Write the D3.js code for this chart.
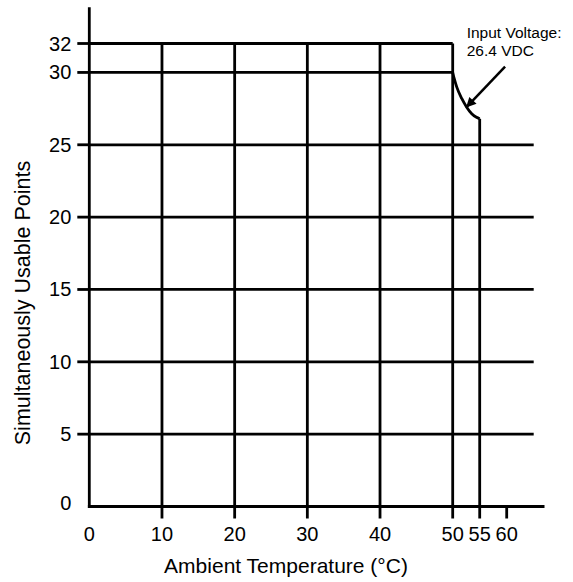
<html>
    <head>
        <title>Simultaneously Usable Points vs Ambient Temperature</title>
        <script src="https://d3js.org/d3.v7.min.js"></script>
        <style>
            body { margin: 0; background-color: white; }
            text { font-family: "Liberation Sans", Arial, sans-serif; fill: black; }
        </style>
    </head>
    <body>
        <div id="chart"></div>
    </body>
    <script>
        // tick values on each axis
        var xTicks = [10, 20, 30, 40, 50, 55, 60];
        var xLabels = [0, 10, 20, 30, 40, 50, 55, 60];
        var yTicks = [5, 10, 15, 20, 25, 30, 32];
        var yLabels = [0, 5, 10, 15, 20, 25, 30, 32];

        // derating curve for 26.4 VDC input
        var curveTemp = [50, 50.3, 50.74, 51.67, 52.59, 53.52, 54.4, 55];
        var curvePoints = [30, 29.55, 29.0, 28.2, 27.6, 27.15, 26.9, 26.8];

        var fullGridY = [5, 10, 15, 20, 25];   // lines out to 65 C
        var topGridY = [30, 32];               // lines up to 50 C
        var gridX = [10, 20, 30, 40, 50];      // vertical up to 32

        var width = 573, height = 582;
        var svg = d3.select("#chart").append("svg")
            .attr("width", width)
            .attr("height", height);

        // axis is stretched between 50 and 60
        var x = d3.scaleLinear()
            .domain([0, 50, 60])
            .range([89.3, 452.7, 506.7]);
        var y = d3.scaleLinear()
            .domain([0, 32])
            .range([506.5, 43.5]);

        var sw = 2.8;
        var g = svg.append("g")
            .attr("stroke", "black")
            .attr("stroke-width", sw)
            .attr("fill", "none");

        // horizontal grid
        g.selectAll(".hfull").data(fullGridY).enter().append("line")
            .attr("x1", x(0)).attr("x2", x(65))
            .attr("y1", function(d) { return y(d); })
            .attr("y2", function(d) { return y(d); });
        g.selectAll(".htop").data(topGridY).enter().append("line")
            .attr("x1", x(0)).attr("x2", x(50))
            .attr("y1", function(d) { return y(d); })
            .attr("y2", function(d) { return y(d); });

        // vertical grid
        g.selectAll(".v").data(gridX).enter().append("line")
            .attr("x1", function(d) { return x(d); })
            .attr("x2", function(d) { return x(d); })
            .attr("y1", y(0)).attr("y2", y(32));
        g.append("line")
            .attr("x1", x(55)).attr("x2", x(55))
            .attr("y1", y(0)).attr("y2", y(curvePoints[curvePoints.length - 1]));

        // the curve
        var arr = curveTemp.map(function(t, i) { return [x(t), y(curvePoints[i])]; });
        g.append("path")
            .attr("d", d3.line().curve(d3.curveMonotoneX)(arr));

        // axes
        var xAxis = svg.append("g").attr("transform", "translate(0," + y(0) + ")");
        xAxis.append("line")
            .attr("x1", x(0) - sw / 2).attr("x2", x(67))
            .attr("stroke", "black").attr("stroke-width", sw);
        xAxis.selectAll(".tk").data(xTicks).enter().append("line")
            .attr("x1", function(d) { return x(d); })
            .attr("x2", function(d) { return x(d); })
            .attr("y1", 0).attr("y2", 12)
            .attr("stroke", "black").attr("stroke-width", sw);
        xAxis.selectAll(".lb").data(xLabels).enter().append("text")
            .attr("x", function(d) { return x(d); })
            .attr("y", 34)
            .attr("text-anchor", "middle")
            .style("font-size", "20px")
            .text(function(d) { return d; });

        var yAxis = svg.append("g").attr("transform", "translate(" + x(0) + ",0)");
        yAxis.append("line")
            .attr("y1", y(0) + sw / 2).attr("y2", y(34.5))
            .attr("stroke", "black").attr("stroke-width", sw);
        yAxis.selectAll(".tk").data(yTicks).enter().append("line")
            .attr("y1", function(d) { return y(d); })
            .attr("y2", function(d) { return y(d); })
            .attr("x1", 0).attr("x2", -12)
            .attr("stroke", "black").attr("stroke-width", sw);
        yAxis.selectAll(".lb").data(yLabels).enter().append("text")
            .attr("x", -18)
            .attr("y", function(d) { return d == 0 ? y(d) - 4 : y(d); })
            .attr("dy", "0.35em")
            .attr("text-anchor", "end")
            .style("font-size", "20px")
            .text(function(d) { return d; });

        // axis titles
        svg.append("text")
            .attr("x", 286).attr("y", 573)
            .attr("text-anchor", "middle")
            .style("font-size", "21px")
            .text("Ambient Temperature (\u00B0C)");
        svg.append("text")
            .attr("transform", "translate(30,303) rotate(-90)")
            .attr("text-anchor", "middle")
            .style("font-size", "21.5px")
            .text("Simultaneously Usable Points");

        // annotation
        svg.append("text")
            .attr("x", 466.7).attr("y", 38)
            .style("font-size", "15.5px")
            .text("Input Voltage:");
        svg.append("text")
            .attr("x", 466.7).attr("y", 56)
            .style("font-size", "15.5px")
            .text("26.4 VDC");

        svg.append("defs").append("marker")
            .attr("id", "head")
            .attr("viewBox", "0 0 10 10")
            .attr("refX", 9).attr("refY", 5)
            .attr("markerWidth", 5).attr("markerHeight", 4)
            .attr("markerUnits", "strokeWidth")
            .attr("orient", "auto")
            .append("path")
            .attr("d", "M0,0 L10,5 L0,10 z")
            .attr("fill", "black");

        svg.append("line")
            .attr("x1", x(59.7)).attr("y1", y(30.4))
            .attr("x2", x(52.6)).attr("y2", y(27.62))
            .attr("stroke", "black").attr("stroke-width", 2.5)
            .attr("marker-end", "url(#head)");
    </script>
</html>
